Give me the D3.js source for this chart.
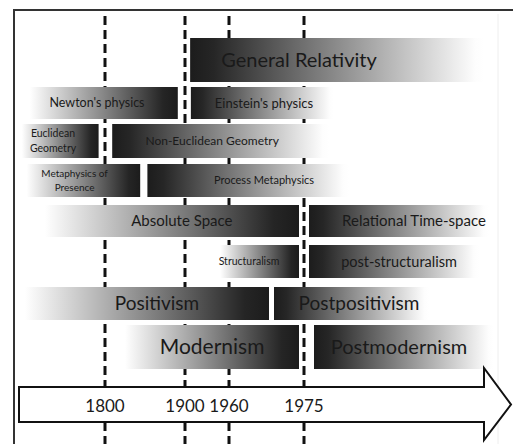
<!DOCTYPE html>
<html><head><meta charset="utf-8">
<script src="https://cdn.jsdelivr.net/npm/d3@7"></script>
<style>html,body{margin:0;padding:0;background:#fff;overflow:hidden}svg{display:block}</style>
</head><body><svg id="c" width="513" height="444"></svg>
<script>
// ---------------- DATA ----------------
const eraNames = ["General Relativity", "Newton's physics", "Einstein's physics", "Euclidean\nGeometry",
  "Non-Euclidean Geometry", "Metaphysics of\nPresence", "Process Metaphysics", "Absolute Space",
  "Relational Time-space", "Structuralism", "post-structuralism", "Positivism", "Postpositivism",
  "Modernism", "Postmodernism"];
const eraStart = [1907, 1706, 1908, 1696, 1809, 1702, 1853, 1725, 1976, 1948, 1976, 1700, 1969, 1825, 1977];
const eraEnd   = [2011, 1891, 1981, 1792, 1980, 1844, 1984, 1974, 2012, 1974, 2010, 1968, 2000, 1974, 2013];
const eraRow   = [0, 1, 1, 2, 2, 3, 3, 4, 4, 5, 5, 6, 6, 7, 7];
const eraFade  = ["right", "left", "right", "left", "right", "left", "right", "left", "right", "left", "right", "left", "right", "left", "right"];
const labelYear = [1974, 1790, 1967, 1735, 1937, 1762, 1967, 1896, 1997, 1964, 1994, 1865, 1986, 1937, 1994];
const tickYears = [1800, 1900, 1960, 1975];
const tickLabels = ["1800", "1900", "1960", "1975"];

// ---------------- LAYOUT / STYLE ----------------
const W = 513, H = 444;
const rowTop = [38, 87, 124, 164, 205, 245, 287, 325];
const rowH   = [44, 32, 34, 33, 32, 33, 33, 44];
const fontSize = [20, 12.5, 13, 10.5, 12, 10, 11, 15, 15, 10.5, 14.5, 19, 19, 21, 20];

const x = d3.scaleLinear()
  .domain([1690, 1800, 1900, 1960, 1975, 2015])
  .range([17, 105, 185, 229, 304, 504]);

const svg = d3.select("#c");
const defs = svg.append("defs");

// frame
svg.append("line").attr("x1", 14).attr("x2", 14).attr("y1", 10).attr("y2", H)
  .attr("stroke", "#333").attr("stroke-width", 2);
svg.append("line").attr("x1", 13).attr("x2", W).attr("y1", 10).attr("y2", 10)
  .attr("stroke", "#333").attr("stroke-width", 2);
svg.append("line").attr("x1", 498).attr("x2", 498).attr("y1", 14).attr("y2", H)
  .attr("stroke", "#eee").attr("stroke-width", 1);

// dashed year lines (behind the bars)
svg.append("g").selectAll("line").data(tickYears).join("line")
  .attr("x1", d => x(d)).attr("x2", d => x(d))
  .attr("y1", 16).attr("y2", H)
  .attr("stroke", "#111").attr("stroke-width", 3)
  .attr("stroke-dasharray", "9,5");

// bars
const eras = eraNames.map((n, i) => ({
  name: n, start: eraStart[i], end: eraEnd[i], row: eraRow[i], fade: eraFade[i],
  label: labelYear[i], fs: fontSize[i], i
}));

eras.forEach(d => {
  const g = defs.append("linearGradient").attr("id", "g" + d.i)
    .attr("x1", "0").attr("x2", "1").attr("y1", "0").attr("y2", "0");
  const dark = "#1c1c1c";
  if (d.fade === "left") {
    g.append("stop").attr("offset", "0").attr("stop-color", "#ffffff");
    g.append("stop").attr("offset", "0.9").attr("stop-color", "#252525");
    g.append("stop").attr("offset", "1").attr("stop-color", dark);
  } else {
    g.append("stop").attr("offset", "0").attr("stop-color", dark);
    g.append("stop").attr("offset", "0.08").attr("stop-color", "#262626");
    g.append("stop").attr("offset", "0.97").attr("stop-color", "#fdfdfd");
    g.append("stop").attr("offset", "1").attr("stop-color", "#ffffff");
  }
});

const barG = svg.append("g");
barG.selectAll("rect").data(eras).join("rect")
  .attr("x", d => x(d.start))
  .attr("width", d => x(d.end) - x(d.start))
  .attr("y", d => rowTop[d.row])
  .attr("height", d => rowH[d.row])
  .attr("fill", d => `url(#g${d.i})`);

// labels
const lab = svg.append("g").attr("font-family", "Lato, 'Open Sans', sans-serif").attr("fill", "#1a1a1a");
eras.forEach(d => {
  const lines = d.name.split("\n");
  const cy = rowTop[d.row] + rowH[d.row] / 2;
  const lh = d.fs * 1.45;
  const t = lab.append("text").attr("text-anchor", "middle").attr("font-size", d.fs);
  lines.forEach((ln, k) => {
    t.append("tspan").attr("x", x(d.label))
      .attr("y", cy + (k - (lines.length - 1) / 2) * lh)
      .attr("dy", "0.35em").text(ln);
  });
});

// arrow
const ax0 = 19, ax1 = 484, ay0 = 387, ay1 = 422, hy0 = 368, hy1 = 440, tip = 511;
const ym = (ay0 + ay1) / 2;
svg.append("path")
  .attr("d", `M${ax0},${ay0}L${ax1},${ay0}L${ax1},${hy0}L${tip},${ym}L${ax1},${hy1}L${ax1},${ay1}L${ax0},${ay1}Z`)
  .attr("fill", "#fff").attr("stroke", "#111").attr("stroke-width", 2).attr("stroke-linejoin", "miter");

svg.append("g").selectAll("text").data(tickYears).join("text")
  .attr("x", (d, i) => x(d)).attr("y", ym + 1).attr("dy", "0.36em")
  .attr("text-anchor", "middle")
  .attr("font-family", "Lato, 'Open Sans', sans-serif").attr("font-size", 17).attr("fill", "#1a1a1a")
  .text((d, i) => tickLabels[i]);
</script></body></html>
